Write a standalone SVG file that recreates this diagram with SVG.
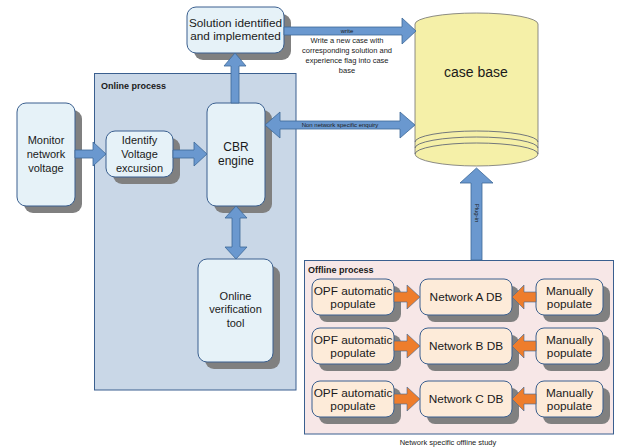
<svg xmlns="http://www.w3.org/2000/svg" width="618" height="448" viewBox="0 0 618 448">
<style>
text{font-family:"Liberation Sans",Arial,sans-serif;fill:#1a1a1a}
.t{font-size:11px;text-anchor:middle}
.o{font-size:11.8px;text-anchor:middle}
.s{font-size:6px;text-anchor:middle}
.m{font-size:7.5px;text-anchor:middle}
.b{font-size:9px;font-weight:bold}
.shadow{fill:#808080}
.nb{fill:#e6f2f8;stroke:#3a5f8f;stroke-width:1}
.no{fill:#fdebd9;stroke:#3a5f8f;stroke-width:1}
.ab{fill:#6a98cf;stroke:#3c6898;stroke-width:0.8}
.ao{fill:#ee7d2c;stroke:#3c6898;stroke-width:0.6}
.cyl{fill:#f5f0a8;stroke:#707070;stroke-width:0.8}
</style>
<rect width="618" height="448" fill="#ffffff"/>
<g id="online-process">
<rect x="94.5" y="73.5" width="201.5" height="316.5" fill="#c9d7e7" stroke="#3a5f8f" stroke-width="1"/>
<text class="b" x="101" y="89">Online process</text>
</g>
<g id="offline-process">
<rect x="304.5" y="260.5" width="309" height="173.5" fill="#f7e7e7" stroke="#3a5f8f" stroke-width="1"/>
<text class="b" x="308" y="273">Offline process</text>
<text class="m" x="448" y="445">Network specific offline study</text>
</g>
<g id="case-base">
<path class="cyl" d="M415,24 A61.5,11 0 0 1 538,24 L538,154 A61.5,12 0 0 1 415,154 Z"/>
<path d="M415,142 A61.5,11 0 0 1 538,142 M415,148 A61.5,11 0 0 1 538,148 M415,154 A61.5,11 0 0 1 538,154" fill="none" stroke="#505870" stroke-width="0.8"/>
<text x="476" y="77" font-size="14" text-anchor="middle">case base</text>
</g>
<g id="solution">
<rect class="shadow" x="194" y="14" width="97" height="46" rx="9"/>
<rect class="nb" x="187" y="7" width="97" height="46" rx="9" fill="#eef1f8"/>
<text class="o" x="235.5" y="27">Solution identified</text>
<text class="o" x="235.5" y="40">and implemented</text>
</g>
<g id="monitor">
<rect class="shadow" x="24" y="110" width="58" height="103" rx="9"/>
<rect class="nb" x="17" y="103" width="58" height="103" rx="9"/>
<text class="t" x="46" y="144">Monitor</text>
<text class="t" x="46" y="158">network</text>
<text class="t" x="46" y="172">voltage</text>
</g>
<g id="identify">
<rect class="shadow" x="113" y="138" width="67" height="46" rx="9"/>
<rect class="nb" x="106" y="131" width="67" height="46" rx="9"/>
<text class="t" x="139.5" y="144">Identify</text>
<text class="t" x="139.5" y="158">Voltage</text>
<text class="t" x="139.5" y="172">excursion</text>
</g>
<g id="cbr">
<rect class="shadow" x="214" y="110" width="58" height="103" rx="9"/>
<rect class="nb" x="207" y="103" width="58" height="103" rx="9"/>
<text x="236" y="151" font-size="12" text-anchor="middle">CBR</text>
<text x="236" y="165" font-size="12" text-anchor="middle">engine</text>
</g>
<g id="verification">
<rect class="shadow" x="205" y="266" width="75" height="103" rx="9"/>
<rect class="nb" x="198" y="259" width="75" height="103" rx="9"/>
<text class="t" x="235.5" y="300">Online</text>
<text class="t" x="235.5" y="313">verification</text>
<text class="t" x="235.5" y="327">tool</text>
</g>
<g id="opf-a">
<rect class="shadow" x="319" y="286" width="82" height="36" rx="8"/>
<rect class="no" x="312" y="279" width="82" height="36" rx="8"/>
<text class="o" x="353" y="295">OPF automatic</text>
<text class="o" x="353" y="308">populate</text>
</g>
<g id="net-a">
<rect class="shadow" x="427" y="286" width="92" height="36" rx="8"/>
<rect class="no" x="420" y="279" width="92" height="36" rx="8"/>
<text class="o" x="466" y="301">Network A DB</text>
</g>
<g id="man-a">
<rect class="shadow" x="543" y="286" width="67" height="36" rx="8"/>
<rect class="no" x="536" y="279" width="67" height="36" rx="8"/>
<text class="o" x="569.5" y="295">Manually</text>
<text class="o" x="569.5" y="308">populate</text>
</g>
<g id="opf-b">
<rect class="shadow" x="319" y="335" width="82" height="36" rx="8"/>
<rect class="no" x="312" y="328" width="82" height="36" rx="8"/>
<text class="o" x="353" y="344">OPF automatic</text>
<text class="o" x="353" y="357">populate</text>
</g>
<g id="net-b">
<rect class="shadow" x="427" y="335" width="92" height="36" rx="8"/>
<rect class="no" x="420" y="328" width="92" height="36" rx="8"/>
<text class="o" x="466" y="350">Network B DB</text>
</g>
<g id="man-b">
<rect class="shadow" x="543" y="335" width="67" height="36" rx="8"/>
<rect class="no" x="536" y="328" width="67" height="36" rx="8"/>
<text class="o" x="569.5" y="344">Manually</text>
<text class="o" x="569.5" y="357">populate</text>
</g>
<g id="opf-c">
<rect class="shadow" x="319" y="388" width="82" height="36" rx="8"/>
<rect class="no" x="312" y="381" width="82" height="36" rx="8"/>
<text class="o" x="353" y="397">OPF automatic</text>
<text class="o" x="353" y="410">populate</text>
</g>
<g id="net-c">
<rect class="shadow" x="427" y="388" width="92" height="36" rx="8"/>
<rect class="no" x="420" y="381" width="92" height="36" rx="8"/>
<text class="o" x="466" y="403">Network C DB</text>
</g>
<g id="man-c">
<rect class="shadow" x="543" y="388" width="67" height="36" rx="8"/>
<rect class="no" x="536" y="381" width="67" height="36" rx="8"/>
<text class="o" x="569.5" y="397">Manually</text>
<text class="o" x="569.5" y="410">populate</text>
</g>
<g id="connectors">
<path class="ab" d="M284,27 L402,27 L402,18 L416,31 L402,44 L402,35 L284,35 Z"/>
<text class="s" x="347" y="33">write</text>
<text class="m" x="347" y="43">Write a new case with</text>
<text class="m" x="347" y="53">corresponding solution and</text>
<text class="m" x="347" y="63">experience flag into case</text>
<text class="m" x="347" y="73">base</text>
<path class="ab" d="M231,103 L231,66 L224,66 L235,53 L246,66 L239,66 L239,103 Z"/>
<path class="ab" d="M265,125 L280,112 L280,121 L400,121 L400,112 L415,125 L400,138 L400,129 L280,129 L280,138 Z"/>
<text class="s" x="340" y="127">Non network specific enquiry</text>
<path class="ab" d="M75,150 L93,150 L93,142 L106,154 L93,166 L93,158 L75,158 Z"/>
<path class="ab" d="M173,150 L194,150 L194,142 L207,154 L194,166 L194,158 L173,158 Z"/>
<path class="ab" d="M236,206 L247,218 L240,218 L240,247 L247,247 L236,259 L225,247 L232,247 L232,218 L225,218 Z"/>
<path class="ab" d="M471,260 L471,183 L460,183 L476.5,168 L493,183 L482,183 L482,260 Z"/>
<text class="s" x="0" y="0" transform="translate(474.5,213) rotate(90)">Plug-in</text>
<path class="ao" d="M394,292 L407,292 L407,285 L420,297 L407,309 L407,302 L394,302 Z"/>
<path class="ao" d="M536,292 L524,292 L524,285 L512,297 L524,309 L524,302 L536,302 Z"/>
<path class="ao" d="M394,341 L407,341 L407,334 L420,346 L407,358 L407,351 L394,351 Z"/>
<path class="ao" d="M536,341 L524,341 L524,334 L512,346 L524,358 L524,351 L536,351 Z"/>
<path class="ao" d="M394,394 L407,394 L407,387 L420,399 L407,411 L407,404 L394,404 Z"/>
<path class="ao" d="M536,394 L524,394 L524,387 L512,399 L524,411 L524,404 L536,404 Z"/>
</g>
</svg>
